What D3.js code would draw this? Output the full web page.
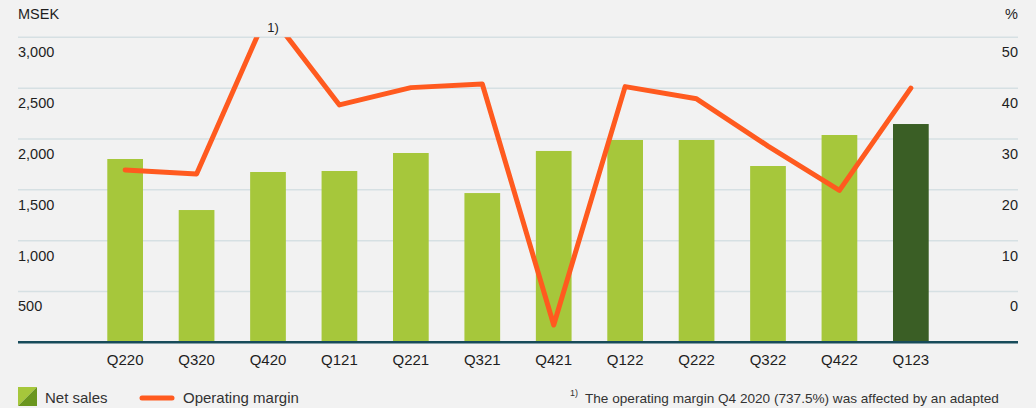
<!DOCTYPE html>
<html>
<head>
<meta charset="utf-8">
<script src="https://cdn.jsdelivr.net/npm/d3@7"></script>
<style>
  html, body { margin: 0; padding: 0; background: #f2f2f2; }
  svg { display: block; font-family: "Liberation Sans", Arial, sans-serif; }
</style>
</head>
<body>
<div id="chart"></div>
<script>
// quarters, net sales (MSEK) and operating margin (%)
var quarters = ['Q220', 'Q320', 'Q420', 'Q121', 'Q221', 'Q321', 'Q421', 'Q122', 'Q222', 'Q322', 'Q422', 'Q123'];
var netSales = [1803, 1301, 1675, 1685, 1862, 1468, 1882, 1990, 1990, 1734, 2039, 2147];
// Q420 was 737.5 %, drawn capped above the chart top (see footnote)
var opMargin = [23.9, 23.1, 55, 36.7, 40.1, 40.8, -6.6, 40.3, 37.9, 28.6, 19.9, 40.0];
var salesTicks = [500, 1000, 1500, 2000, 2500, 3000];
var marginTicks = [0, 10, 20, 30, 40, 50];

var width = 1036, height = 408;
var plotLeft = 18, plotRight = 1018, plotTop = 37.3, plotBase = 342.3;
var green = '#a6c73b', darkGreen = '#3a5e25', orange = '#ff5a1f', textCol = '#1e1e1e';

var svg = d3.select('#chart').append('svg')
    .attr('width', width)
    .attr('height', height);

var step = (plotRight - plotLeft) / 14;
var x = d3.scaleBand()
    .domain(quarters)
    .range([plotLeft + step, plotRight - step])
    .paddingInner(0.5)
    .paddingOuter(0.25);

var ySales = d3.scaleLinear().domain([0, 3000]).range([plotBase, plotTop]);
var yMargin = d3.scaleLinear().domain([0, 50]).range([ySales(500), plotTop]);

// gridlines
svg.append('g').selectAll('line')
    .data(salesTicks)
    .join('line')
    .attr('x1', plotLeft).attr('x2', plotRight)
    .attr('y1', function(d) { return ySales(d); })
    .attr('y2', function(d) { return ySales(d); })
    .attr('stroke', '#d6e0e3')
    .attr('stroke-width', 1.5);

// left labels
svg.append('g').selectAll('text')
    .data(salesTicks)
    .join('text')
    .attr('x', plotLeft)
    .attr('y', function(d) { return ySales(d) + 20; })
    .attr('font-size', 14.5)
    .attr('fill', textCol)
    .text(d3.format(','));

// right labels
svg.append('g').selectAll('text')
    .data(marginTicks)
    .join('text')
    .attr('x', plotRight)
    .attr('y', function(d) { return yMargin(d) + 20; })
    .attr('text-anchor', 'end')
    .attr('font-size', 14.5)
    .attr('fill', textCol)
    .text(function(d) { return d; });

svg.append('text').attr('x', plotLeft).attr('y', 19)
    .attr('font-size', 14.5).attr('fill', textCol).text('MSEK');
svg.append('text').attr('x', plotRight).attr('y', 19).attr('text-anchor', 'end')
    .attr('font-size', 14.5).attr('fill', textCol).text('%');

// bars
svg.append('g').selectAll('rect')
    .data(netSales)
    .join('rect')
    .attr('x', function(d, i) { return x(quarters[i]); })
    .attr('width', x.bandwidth())
    .attr('y', function(d) { return ySales(d); })
    .attr('height', function(d) { return ySales(0) - ySales(d); })
    .attr('fill', function(d, i) { return i === quarters.length - 1 ? darkGreen : green; });

// baseline
svg.append('line')
    .attr('x1', plotLeft).attr('x2', plotRight)
    .attr('y1', ySales(0)).attr('y2', ySales(0))
    .attr('stroke', '#174b5a')
    .attr('stroke-width', 2.5);

// x labels
svg.append('g').selectAll('text')
    .data(quarters)
    .join('text')
    .attr('x', function(d) { return x(d) + x.bandwidth() / 2; })
    .attr('y', 365)
    .attr('text-anchor', 'middle')
    .attr('font-size', 15)
    .attr('fill', textCol)
    .text(function(d) { return d; });

// operating margin line, clipped at top gridline
svg.append('clipPath').attr('id', 'clip')
    .append('rect')
    .attr('x', 0).attr('y', plotTop)
    .attr('width', width).attr('height', height);

var line = d3.line()
    .x(function(d, i) { return x(quarters[i]) + x.bandwidth() / 2; })
    .y(function(d) { return yMargin(d); });

svg.append('path')
    .datum(opMargin)
    .attr('clip-path', 'url(#clip)')
    .attr('d', line)
    .attr('fill', 'none')
    .attr('stroke', orange)
    .attr('stroke-width', 5)
    .attr('stroke-linejoin', 'round')
    .attr('stroke-linecap', 'round');

svg.append('text')
    .attr('x', x('Q420') + x.bandwidth() / 2 + 5)
    .attr('y', 32)
    .attr('text-anchor', 'middle')
    .attr('font-size', 13)
    .attr('fill', textCol)
    .text('1)');

// legend
var legend = svg.append('g');
legend.append('polygon')
    .attr('points', '18,387 37,387 18,406')
    .attr('fill', green);
legend.append('polygon')
    .attr('points', '37,387 37,406 18,406')
    .attr('fill', '#6a961e');
legend.append('text').attr('x', 45).attr('y', 403)
    .attr('font-size', 15).attr('fill', '#333').text('Net sales');
legend.append('line')
    .attr('x1', 142).attr('x2', 172).attr('y1', 398).attr('y2', 398)
    .attr('stroke', orange).attr('stroke-width', 5).attr('stroke-linecap', 'round');
legend.append('text').attr('x', 183).attr('y', 403)
    .attr('font-size', 15).attr('fill', '#333').text('Operating margin');

// footnote
svg.append('text').attr('x', 570).attr('y', 396)
    .attr('font-size', 9).attr('fill', '#333').text('1)');
svg.append('text').attr('x', 585).attr('y', 403)
    .attr('font-size', 13.6).attr('fill', '#333')
    .text('The operating margin Q4 2020 (737.5%) was affected by an adapted');
</script>
</body>
</html>
